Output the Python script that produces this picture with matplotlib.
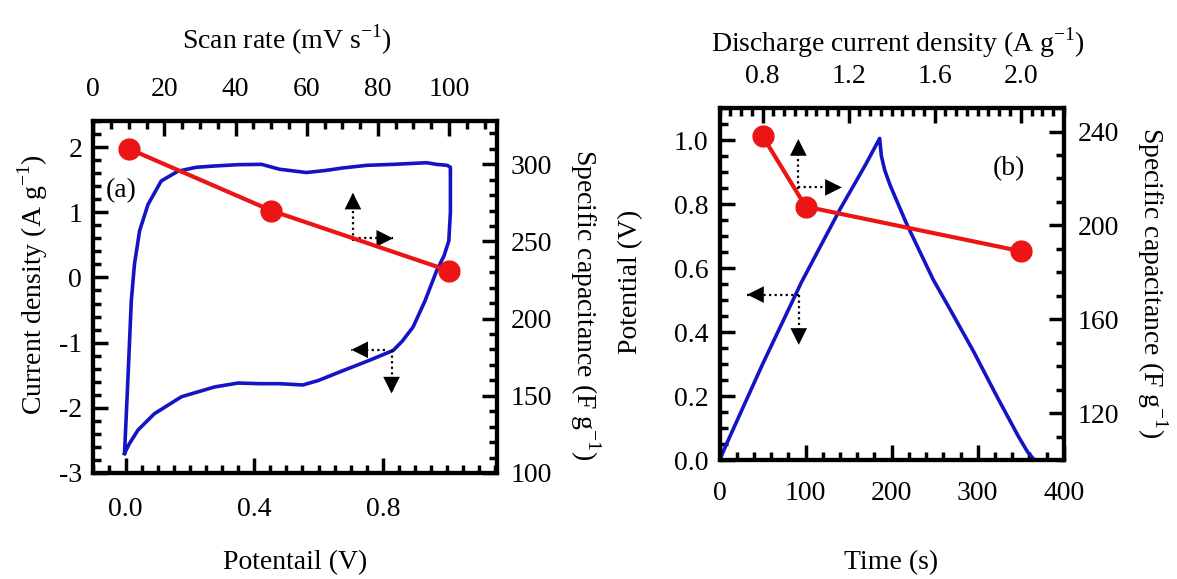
import matplotlib
matplotlib.use('Agg')
import matplotlib.pyplot as plt
from matplotlib.ticker import MultipleLocator, FixedLocator

# ---- data ----
# (a) CV loop (potential V, current density A/g)
cv_potential = [-0.003, 0.008, 0.018, 0.028, 0.044, 0.070, 0.111, 0.163, 0.22, 0.277, 0.35, 0.423,
                0.479, 0.562, 0.62, 0.676, 0.75, 0.832, 0.936, 0.967, 1.0, 1.01, 1.01, 1.005,
                0.99, 0.967, 0.931, 0.894, 0.86, 0.832, 0.759, 0.676, 0.60, 0.551, 0.479, 0.417,
                0.35, 0.277, 0.174, 0.090, 0.039, 0.012, -0.003]
cv_current = [-2.70, -1.5, -0.36, 0.21, 0.72, 1.12, 1.48, 1.63, 1.69, 1.71, 1.73, 1.735,
              1.66, 1.61, 1.64, 1.68, 1.72, 1.735, 1.76, 1.735, 1.72, 1.69, 1.0, 0.56,
              0.33, 0.10, -0.36, -0.76, -0.98, -1.12, -1.27, -1.43, -1.58, -1.65, -1.63, -1.63,
              -1.62, -1.68, -1.83, -2.09, -2.34, -2.55, -2.70]
# (a) specific capacitance vs scan rate
scan_rate = [10, 50, 100]
cap_scan = [310, 270, 231]

# (b) charge-discharge curve (time s, potential V)
gcd_time = [0, 8, 50, 95, 140, 169, 186, 188, 192, 198, 217, 248, 268, 295, 322, 347, 358, 366]
gcd_potential = [0.0, 0.05, 0.30, 0.555, 0.784, 0.92, 1.005, 0.95, 0.905, 0.86, 0.74, 0.565,
                 0.47, 0.34, 0.20, 0.075, 0.025, 0.0]
# (b) specific capacitance vs discharge current density
discharge_density = [0.8, 1.0, 2.0]
cap_discharge = [238, 208, 189]

# ---- style ----
plt.rcParams['font.family'] = 'Liberation Serif'
plt.rcParams['mathtext.fontset'] = 'custom'
plt.rcParams['mathtext.rm'] = 'Liberation Serif'
plt.rcParams['axes.unicode_minus'] = False
plt.rcParams['axes.linewidth'] = 3

red = '#ec1414'
blue = '#1414c4'
tick_fs = 20
label_fs = 20


def ticks(ax, pad_x, pad_y):
    ax.tick_params(which='both', direction='in', width=2.5, labelsize=tick_fs)
    ax.tick_params(which='major', length=11)
    ax.tick_params(which='minor', length=6)
    ax.tick_params(axis='x', pad=pad_x)
    ax.tick_params(axis='y', pad=pad_y)


def arrow(ax, tail, tip):
    # dotted shaft + solid head
    ax.plot([tail[0], tip[0]], [tail[1], tip[1]], ls=(0, (1, 1.5)), color='k', lw=1.6)
    ax.annotate('', xy=tip, xytext=tail,
                arrowprops=dict(arrowstyle='-|>,head_length=0.6,head_width=0.3',
                                lw=0, color='k', shrinkA=0, shrinkB=0, mutation_scale=20))


fig = plt.figure(figsize=(11.77, 5.79), dpi=100)

# ================= panel (a) =================
rect_a = [0.0793, 0.1831, 0.343, 0.6079]
ax1 = fig.add_axes(rect_a)
ax1.plot(cv_potential, cv_current, color=blue, lw=2.6)
ax1.set_xlim(-0.1, 1.155)
ax1.set_ylim(-3, 2.4)
ax1.xaxis.set_major_locator(FixedLocator([0.0, 0.4, 0.8]))
ax1.set_xticklabels(['0.0', '0.4', '0.8'])
ax1.xaxis.set_minor_locator(MultipleLocator(0.05))
ax1.yaxis.set_major_locator(MultipleLocator(1))
ax1.yaxis.set_minor_locator(MultipleLocator(0.2))
ticks(ax1, 17, 8)
ax1.text(-0.013, 1.33, '(a)', fontsize=tick_fs, ha='center', va='center')
arrow(ax1, (0.707, 0.56), (0.707, 1.30))
arrow(ax1, (0.707, 0.60), (0.832, 0.60))
arrow(ax1, (0.806, -1.11), (0.702, -1.11))
arrow(ax1, (0.827, -1.12), (0.827, -1.78))

ax1b = fig.add_axes(rect_a)
ax1b.patch.set_visible(False)
ax1b.plot(scan_rate, cap_scan, 'o-', color=red, lw=3, ms=15)
ax1b.xaxis.tick_top()
ax1b.yaxis.tick_right()
ax1b.set_xticks([0, 20, 40, 60, 80, 100])
ax1b.xaxis.set_minor_locator(MultipleLocator(5))
ax1b.set_xlim(0, 113.5)
ax1b.set_ylim(100, 328)
ax1b.yaxis.set_major_locator(MultipleLocator(50))
ax1b.yaxis.set_minor_locator(MultipleLocator(10))
ticks(ax1b, 14, 10)

fig.text(0.2438, 0.9309, 'Scan rate (mV s$^{-1}$)', fontsize=label_fs, ha='center', va='center')
fig.text(0.2506, 0.0276, 'Potentail (V)', fontsize=label_fs, ha='center', va='center')
fig.text(0.028, 0.5078, 'Current density (A g$^{-1}$)', fontsize=label_fs,
         ha='center', va='center', rotation=90)
fig.text(0.497, 0.473, 'Specific capacitance (F g$^{-1}$)', fontsize=label_fs,
         ha='center', va='center', rotation=270)

# ================= panel (b) =================
rect_b = [0.6114, 0.2055, 0.2924, 0.6079]
ax2 = fig.add_axes(rect_b)
ax2.plot(gcd_time, gcd_potential, color=blue, lw=2.6)
ax2.set_xlim(0, 400)
ax2.set_ylim(0, 1.1)
ax2.xaxis.set_major_locator(MultipleLocator(100))
ax2.xaxis.set_minor_locator(MultipleLocator(20))
ax2.yaxis.set_major_locator(MultipleLocator(0.2))
ax2.yaxis.set_minor_locator(MultipleLocator(0.05))
ax2.yaxis.set_major_formatter('{x:.1f}')
ticks(ax2, 15, 8)
ax2.text(336, 0.91, '(b)', fontsize=tick_fs, ha='center', va='center')
arrow(ax2, (91.5, 0.846), (91.5, 1.003))
arrow(ax2, (91.5, 0.852), (142, 0.852))
arrow(ax2, (92, 0.517), (32, 0.517))
arrow(ax2, (92, 0.517), (92, 0.36))

ax2b = fig.add_axes(rect_b)
ax2b.patch.set_visible(False)
ax2b.plot(discharge_density, cap_discharge, 'o-', color=red, lw=3, ms=15)
ax2b.set_xlim(0.6, 2.2)
ax2b.set_ylim(100, 250)
ax2b.xaxis.tick_top()
ax2b.yaxis.tick_right()
ax2b.xaxis.set_major_locator(FixedLocator([0.8, 1.2, 1.6, 2.0]))
ax2b.xaxis.set_major_formatter('{x:.1f}')
ax2b.xaxis.set_minor_locator(MultipleLocator(0.05))
ax2b.yaxis.set_major_locator(MultipleLocator(40))
ax2b.yaxis.set_minor_locator(MultipleLocator(10))
ticks(ax2b, 14, 10)

fig.text(0.763, 0.9257, 'Discharge current density (A g$^{-1}$)', fontsize=label_fs,
         ha='center', va='center')
fig.text(0.757, 0.0276, 'Time (s)', fontsize=label_fs, ha='center', va='center')
fig.text(0.536, 0.513, 'Potential (V)', fontsize=label_fs, ha='center', va='center', rotation=90)
fig.text(0.979, 0.511, 'Specific capacitance (F g$^{-1}$)', fontsize=label_fs,
         ha='center', va='center', rotation=270)

fig.savefig('out.png', dpi=100)
